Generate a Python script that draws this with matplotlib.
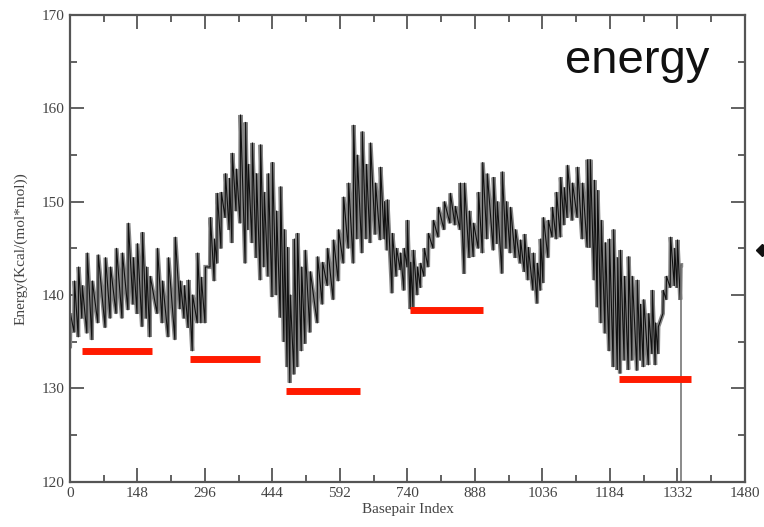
import numpy as np
import matplotlib
matplotlib.use("Agg")
import matplotlib.pyplot as plt
from matplotlib.ticker import MultipleLocator
from matplotlib.lines import Line2D

# basepair index of each stripe, with low / high energy of the stripe
bp = [0, 9, 18, 26, 37, 48, 61, 77, 88, 101, 114, 127, 138, 147, 158, 167, 175,
      191, 202, 215, 230, 241, 250, 259, 268, 279, 287, 296, 307, 316, 322, 331,
      340, 349, 355, 364, 373, 384, 390, 399, 408, 417, 425, 434, 443, 452, 461,
      469, 476, 482, 491, 498, 507, 515, 526, 542, 553, 564, 577, 588, 599, 610,
      621, 629, 640, 649, 658, 669, 680, 689, 695, 706, 715, 724, 732, 739, 746,
      752, 761, 768, 776, 785, 796, 807, 820, 833, 844, 855, 864, 875, 884, 895,
      904, 914, 928, 936, 947, 956, 965, 976, 987, 996, 1004, 1015, 1024, 1031,
      1037, 1048, 1057, 1066, 1075, 1083, 1090, 1101, 1112, 1123, 1134, 1140,
      1149, 1156, 1164, 1173, 1182, 1191, 1200, 1206, 1215, 1224, 1232, 1243,
      1250, 1257, 1268, 1276, 1283, 1289, 1300, 1307, 1316, 1325, 1331, 1338]
e_lo = [134.5, 136, 135.5, 137.5, 135.9, 135.2, 137, 136.5, 137.5, 138, 137.5,
        138.4, 139, 138, 136.6, 137.5, 135.5, 138, 137, 135.5, 135.2, 138.5,
        137.5, 136.5, 134, 137, 137, 137, 143, 141.5, 143.4, 145, 148.3, 147,
        145.6, 149, 147.7, 143.4, 147, 145.6, 144, 141.6, 143, 142, 139.8, 140,
        137.6, 135, 132.3, 130.6, 131.5, 132.3, 134, 134.8, 136, 137, 139, 141,
        139.5, 141.5, 143.4, 145, 143.4, 146, 144.5, 146, 145.6, 146.5, 145.9,
        146, 144.8, 140.2, 142, 142.7, 140.5, 143, 138.5, 138.7, 140, 140.8, 142,
        143, 145, 146.2, 147, 147.7, 147.5, 147, 142.3, 144, 144.1, 145, 144.5,
        146, 144.8, 145.5, 142.3, 145, 144.5, 144, 143.4, 142.5, 141.6, 140.5,
        139.1, 140.5, 141.3, 144, 146.2, 146, 146.2, 147.5, 148.3, 148, 148.3,
        146, 145.1, 145.1, 141.6, 138.7, 137, 135.9, 134, 132.3, 132, 131.6, 133,
        132, 133, 131.9, 133, 132.3, 132.5, 133.7, 132.5, 133.7, 138, 139.5,
        140.8, 141, 140.8, 139.5]
e_hi = [138, 141.5, 143, 141, 144.5, 141.5, 144.3, 144, 143, 145, 144.5, 147.7,
        144, 145.5, 146.7, 143, 142, 145, 141.5, 144, 146.2, 141.5, 141, 141.6,
        140, 144.5, 141.9, 143, 148.3, 146, 150.9, 151, 153, 152.5, 155.2, 153.5,
        159.3, 158.5, 154, 156.3, 153, 156.1, 151, 153, 154.2, 149, 151.6, 147,
        145.1, 140, 146, 146.6, 143, 144.8, 142.5, 144.1, 143.5, 145, 145.9, 147,
        150.5, 152, 158.2, 155, 157.5, 154, 156.3, 152, 153.7, 150, 150.2, 146.6,
        145, 144.5, 145, 148, 143.5, 144.8, 143, 143.4, 145, 146.6, 148, 149.4,
        150, 150.9, 149.5, 152, 152, 149, 147.7, 151, 154.2, 153, 152.6, 150,
        153.2, 150, 149.4, 147, 145.9, 146.5, 145.1, 144.5, 143.4, 146, 148.3,
        148, 149.4, 151, 152.6, 151.5, 153.9, 152, 153.7, 152, 154.5, 154.5,
        152.3, 151.2, 148, 145.6, 146, 147, 144, 144.8, 142, 144.1, 142, 141.6,
        139, 139.5, 138, 140.5, 137, 136.6, 140.5, 142, 146.2, 145, 145.9, 143.2]
end_bp = 1340
end_energy = 118.0   # the trace drops off the bottom of the axis at its last point

# red reference levels: (start bp, end bp, energy)
ref_start = [26, 263, 474, 746, 1204]
ref_end = [180, 417, 636, 906, 1362]
ref_energy = [134.0, 133.1, 129.7, 138.4, 131.0]

xticks = [0, 148, 296, 444, 592, 740, 888, 1036, 1184, 1332, 1480]

SERIF = ["Liberation Serif", "DejaVu Serif"]
GREY = "#555555"


def main():
    fig = plt.figure(figsize=(7.64, 5.27), dpi=100)
    ax = fig.add_axes([0.0916, 0.0863, 0.8835, 0.885])

    # zig-zag trace: each stripe goes low -> high
    xs, ys = [], []
    for b, lo, hi in zip(bp, e_lo, e_hi):
        xs += [b, b + 1]
        ys += [lo, hi]
    xs.append(end_bp)
    ys.append(ys[-1])
    ax.plot(xs, ys, color="#858585", lw=3.0, solid_joinstyle="miter")
    ax.plot(xs, ys, color="#111111", lw=0.8)
    ax.plot([end_bp, end_bp], [ys[-1], end_energy], color="#777777", lw=1.2)

    for s, e, v in zip(ref_start, ref_end, ref_energy):
        ax.plot([s, e], [v, v], color="#ff1a00", lw=5, solid_capstyle="butt")

    ax.set_xlim(0, 1480)
    ax.set_ylim(120, 170)
    ax.set_xticks(xticks)
    ax.xaxis.set_minor_locator(MultipleLocator(74))
    ax.yaxis.set_major_locator(MultipleLocator(10))
    ax.yaxis.set_minor_locator(MultipleLocator(5))
    ax.tick_params(which="both", direction="in", top=True, right=True,
                   color=GREY, width=1.3, labelcolor="#444444", labelsize=11)
    ax.tick_params(which="major", length=10, pad=4)
    ax.tick_params(which="minor", length=5)
    for lab in ax.get_xticklabels() + ax.get_yticklabels():
        lab.set_family(SERIF)
    for sp in ax.spines.values():
        sp.set_color(GREY)
        sp.set_linewidth(1.6)

    ax.set_xlabel("Basepair Index", family=SERIF, fontsize=11, color="#444444",
                  labelpad=2)
    ax.set_ylabel("Energy(Kcal/(mol*mol))", family=SERIF, fontsize=11,
                  color="#444444", labelpad=10)

    fig.text(0.7395, 0.8615, "energy", family=["Liberation Sans", "DejaVu Sans"],
             fontsize=34, va="baseline", ha="left", color="#111111")
    fig.add_artist(Line2D([0.997], [0.526], transform=fig.transFigure,
                          marker="D", markersize=6, color="#111111", lw=0))

    fig.savefig("out.png", dpi=100)
    plt.close(fig)


if __name__ == "__main__":
    main()
